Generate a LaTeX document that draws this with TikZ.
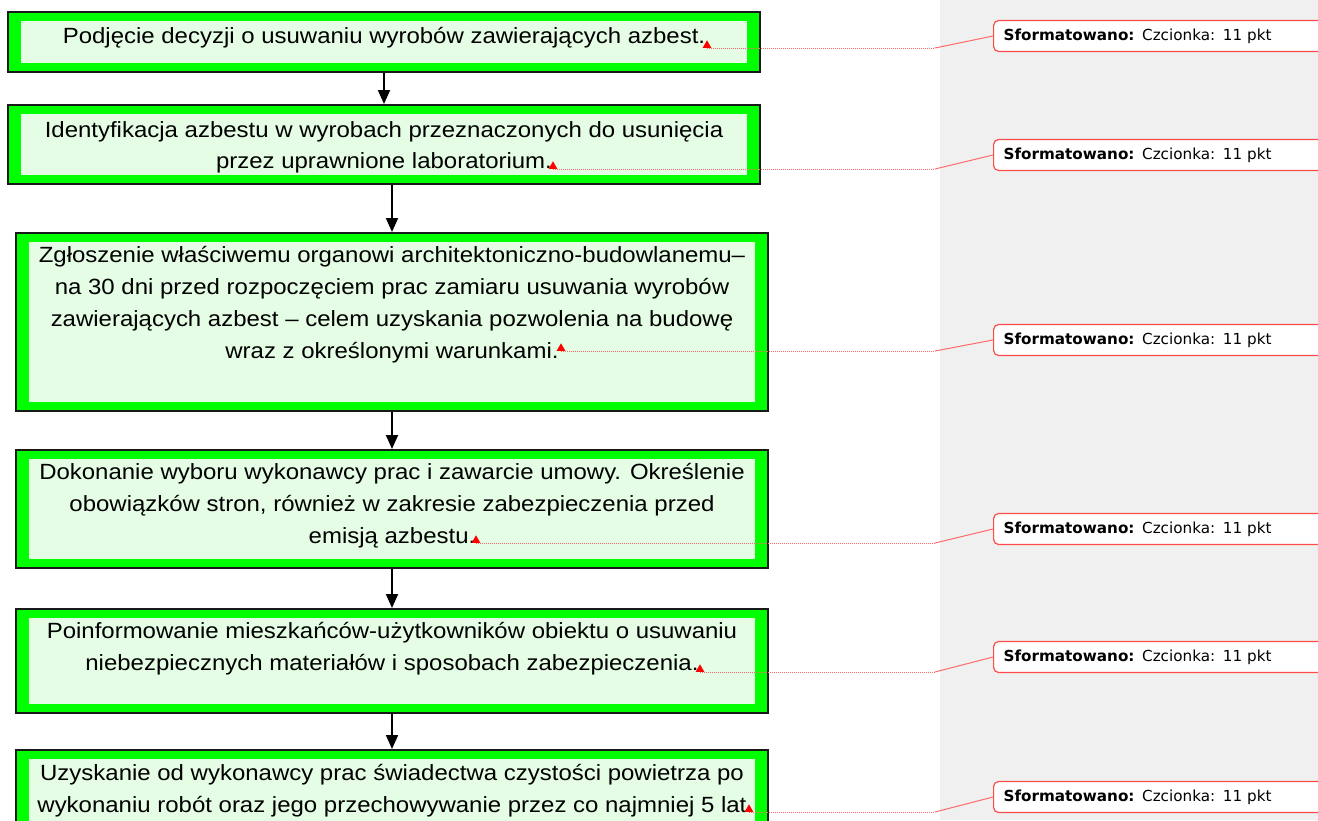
\documentclass[tikz,border=0pt]{standalone}
\usepackage{fontspec}
\setmainfont{Liberation Sans}
\newfontfamily\stepfont[FakeStretch=1.09]{Liberation Sans}
\newfontfamily\notefont{DejaVu Sans}
\usetikzlibrary{positioning,shapes.geometric,arrows.meta}
\definecolor{boxgreen}{HTML}{00FF00}
\definecolor{boxpale}{HTML}{E5FDE5}
\definecolor{panegray}{HTML}{F0F0F0}
\definecolor{notered}{HTML}{FF4A4A}
\definecolor{linered}{HTML}{FF6A6A}

\begin{document}
\begin{tikzpicture}[
  x=1pt, y=-1pt,
  stepbox/.style={draw=black!90, line width=2pt, fill=boxgreen, inner sep=0pt,
    minimum width=752pt, anchor=north west,
    path picture={\fill[boxpale]
      ([xshift=13pt,yshift=-9pt]path picture bounding box.north west) rectangle
      ([xshift=-13pt,yshift=9pt]path picture bounding box.south east);}},
  steptext/.style={align=center, inner sep=0pt,
    font=\stepfont\fontsize{22}{31.8}\selectfont},
  notemark/.style={regular polygon, regular polygon sides=3, fill=red,
    inner sep=0pt, minimum size=10pt, anchor=south},
  notebox/.style={draw=notered, line width=1.2pt, fill=white, rounded corners=5pt,
    anchor=west, minimum height=31pt, text width=400pt, inner xsep=10pt,
    align=left, font=\notefont\fontsize{15.2}{18}\selectfont},
  noteline/.style={draw=linered, line width=1pt, dash pattern=on 1pt off 1pt},
  notediag/.style={draw=linered, line width=1pt},
  >={Triangle[length=14pt,width=12pt]},
  ]
  \clip (0,0) rectangle (1318,820);
  \fill[panegray] (940,0) rectangle (1318,820);

  \node[stepbox, minimum height=60pt] (s1) at (7,11) {};
  \node[stepbox, minimum height=79pt] (s2) at (7,104) {};
  \node[stepbox, minimum height=178pt] (s3) at (15,232) {};
  \node[stepbox, minimum height=118pt] (s4) at (15,449) {};
  \node[stepbox, minimum height=104pt] (s5) at (15,608) {};
  \node[stepbox, minimum height=110pt] (s6) at (15,749) {};

  \node[steptext, below=16pt of s1.north] (t1)
    {Podjęcie decyzji o usuwaniu wyrobów zawierających azbest.};
  \node[steptext, below=17pt of s2.north] (t2)
    {Identyfikacja azbestu w wyrobach przeznaczonych do usunięcia\\
     przez uprawnione laboratorium.};
  \node[steptext, below=14.5pt of s3.north] (t3)
    {Zgłoszenie właściwemu organowi architektoniczno-budowlanemu–\\
     na 30 dni przed rozpoczęciem prac zamiaru usuwania wyrobów\\
     zawierających azbest – celem uzyskania pozwolenia na budowę\\
     wraz z określonymi warunkami.};
  \node[steptext, below=14pt of s4.north] (t4)
    {Dokonanie wyboru wykonawcy prac i zawarcie umowy. Określenie\\
     obowiązków stron, również w zakresie zabezpieczenia przed\\
     emisją azbestu.};
  \node[steptext, below=14pt of s5.north] (t5)
    {Poinformowanie mieszkańców-użytkowników obiektu o usuwaniu\\
     niebezpiecznych materiałów i sposobach zabezpieczenia.};
  \node[steptext, below=15pt of s6.north] (t6)
    {Uzyskanie od wykonawcy prac świadectwa czystości powietrza po\\
     wykonaniu robót oraz jego przechowywanie przez co najmniej 5 lat};

  \path[->, line width=2pt]
  (s1) edge (s2)
  (s2.south -| s3.north) edge (s3)
  (s3) edge (s4)
  (s4) edge (s5)
  (s5) edge (s6);

  \node[notemark] (m1) at (707,48) {};
  \node[notemark] (m2) at (553,169) {};
  \node[notemark] (m3) at (561,351) {};
  \node[notemark] (m4) at (476,543) {};
  \node[notemark] (m5) at (700,672) {};
  \node[notemark] (m6) at (749,812) {};
  \coordinate (k1) at (935,48);
  \coordinate (k2) at (935,169);
  \coordinate (k3) at (935,351);
  \coordinate (k4) at (935,543);
  \coordinate (k5) at (935,672);
  \coordinate (k6) at (935,812);
  \node[notebox] (c1) at (993,36) {\textbf{Sformatowano:} Czcionka: 11 pkt};
  \node[notebox] (c2) at (993,155) {\textbf{Sformatowano:} Czcionka: 11 pkt};
  \node[notebox] (c3) at (993,340) {\textbf{Sformatowano:} Czcionka: 11 pkt};
  \node[notebox] (c4) at (993,529) {\textbf{Sformatowano:} Czcionka: 11 pkt};
  \node[notebox] (c5) at (993,657) {\textbf{Sformatowano:} Czcionka: 11 pkt};
  \node[notebox] (c6) at (993,797) {\textbf{Sformatowano:} Czcionka: 11 pkt};
  \path[noteline]
  (m1.south) edge (k1)
  (m2.south) edge (k2)
  (m3.south) edge (k3)
  (m4.south) edge (k4)
  (m5.south) edge (k5)
  (m6.south) edge (k6);
  \path[notediag]
  (k1) edge (c1.west)
  (k2) edge (c2.west)
  (k3) edge (c3.west)
  (k4) edge (c4.west)
  (k5) edge (c5.west)
  (k6) edge (c6.west);
\end{tikzpicture}
\end{document}
